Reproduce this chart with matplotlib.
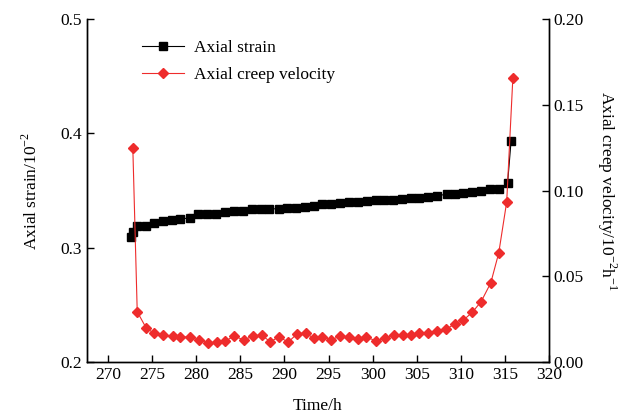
import matplotlib.pyplot as plt

plt.rcParams['font.family'] = ['Liberation Serif', 'DejaVu Serif']
plt.rcParams['mathtext.fontset'] = 'custom'
plt.rcParams['mathtext.rm'] = 'Liberation Serif'

# axial strain (10^-2) vs time (h)
strain_t = [272.6, 272.8, 273.3, 274.3, 275.2, 276.2, 277.2, 278.2, 279.3, 280.2,
            281.2, 282.2, 283.3, 284.3, 285.3, 286.3, 287.3, 288.3, 289.4, 290.3,
            291.3, 292.3, 293.3, 294.3, 295.3, 296.3, 297.3, 298.3, 299.4, 300.4,
            301.3, 302.3, 303.3, 304.3, 305.3, 306.3, 307.3, 308.4, 309.3, 310.3,
            311.3, 312.3, 313.3, 314.3, 315.3, 315.7]
strain = [0.309, 0.314, 0.319, 0.3193, 0.3213, 0.3236, 0.3242, 0.3248, 0.3263, 0.3298,
          0.3298, 0.3298, 0.3312, 0.3318, 0.3318, 0.3336, 0.334, 0.334, 0.334, 0.3345,
          0.335, 0.3353, 0.3367, 0.3382, 0.3382, 0.3394, 0.34, 0.3402, 0.3409, 0.3417,
          0.3417, 0.342, 0.3423, 0.3432, 0.3437, 0.3441, 0.3455, 0.3467, 0.347, 0.3476,
          0.3487, 0.3496, 0.3516, 0.3516, 0.3563, 0.3934]

# axial creep velocity (10^-2 h^-1) vs time (h)
vel_t = [272.8, 273.3, 274.3, 275.2, 276.2, 277.3, 278.2, 279.3, 280.3, 281.3,
         282.3, 283.3, 284.3, 285.4, 286.4, 287.4, 288.4, 289.4, 290.4, 291.4,
         292.4, 293.3, 294.3, 295.3, 296.3, 297.3, 298.3, 299.3, 300.4, 301.4,
         302.4, 303.4, 304.4, 305.3, 306.3, 307.3, 308.3, 309.3, 310.3, 311.3,
         312.3, 313.4, 314.3, 315.2, 315.9]
vel = [0.1248, 0.0293, 0.020, 0.0167, 0.0157, 0.0152, 0.0148, 0.0144, 0.0128, 0.0113,
       0.0115, 0.0122, 0.0152, 0.0128, 0.0152, 0.0157, 0.0118, 0.0148, 0.0115, 0.0163,
       0.0171, 0.0138, 0.0148, 0.0128, 0.0153, 0.0144, 0.0132, 0.0144, 0.0124, 0.0138,
       0.0157, 0.0157, 0.0157, 0.0167, 0.0167, 0.0183, 0.019, 0.0222, 0.0245, 0.029,
       0.0352, 0.0462, 0.0636, 0.0933, 0.1656]

red = '#EE2C2C'

fig = plt.figure(figsize=(6.33, 4.20), dpi=100)
ax = fig.add_axes([0.1374, 0.138, 0.7299, 0.8168])
ax2 = ax.twinx()

l1, = ax.plot(strain_t, strain, color='black', lw=0.8, marker='s', ms=6,
              label='Axial strain')
l2, = ax2.plot(vel_t, vel, color=red, lw=0.8, marker='D', ms=5.5,
               label='Axial creep velocity')

ax.set_xlim(267.6, 320)
ax.set_ylim(0.2, 0.5)
ax2.set_ylim(0, 0.20)
ax.set_xticks(range(270, 321, 5))
ax.set_yticks([0.2, 0.3, 0.4, 0.5])
ax2.set_yticks([0, 0.05, 0.10, 0.15, 0.20])
ax2.set_yticklabels(['0.00', '0.05', '0.10', '0.15', '0.20'])

for a in (ax, ax2):
    a.spines['top'].set_visible(False)
    a.tick_params(direction='in', length=5, width=1, labelsize=12.5)
    for s in a.spines.values():
        s.set_linewidth(1)

ax.set_xlabel('Time/h', fontsize=12.5)
ax.xaxis.set_label_coords(0.5, -0.105)
ax.set_ylabel('Axial strain/10$^{-2}$', fontsize=12.5)
ax.yaxis.set_label_coords(-0.1, 0.5)
ax2.set_ylabel('Axial creep velocity/10$^{-2}$h$^{-1}$', fontsize=12.5,
               rotation=-90)
ax2.yaxis.set_label_coords(1.15, 0.5)

ax.legend(handles=[l1, l2], loc='upper left', bbox_to_anchor=(0.085, 0.985),
          frameon=False, fontsize=12.5, handlelength=2.4, handletextpad=0.6,
          labelspacing=0.65)

fig.savefig('out.png', dpi=100)
